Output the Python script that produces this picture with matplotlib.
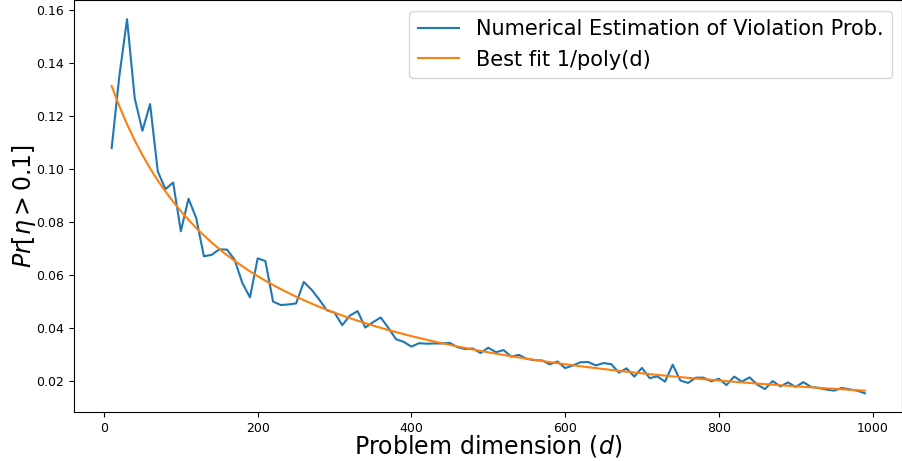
import matplotlib
matplotlib.use('Agg')
import matplotlib.pyplot as plt
import numpy as np

# problem dimensions d = 10, 20, ..., 990
dims = list(range(10, 1000, 10))

# estimated Pr[eta > 0.1] at each dimension
viol_prob = [
    0.1080, 0.1352, 0.1566, 0.1268, 0.1145, 0.1246, 0.0992, 0.0925, 0.0950, 0.0766,
    0.0889, 0.0816, 0.0672, 0.0677, 0.0698, 0.0697, 0.0659, 0.0571, 0.0517, 0.0664,
    0.0654, 0.0501, 0.0488, 0.0490, 0.0494, 0.0575, 0.0546, 0.0509, 0.0468, 0.0459,
    0.0412, 0.0448, 0.0465, 0.0403, 0.0423, 0.0441, 0.0402, 0.0359, 0.0349, 0.0331,
    0.0344, 0.0342, 0.0343, 0.0343, 0.0345, 0.0329, 0.0322, 0.0324, 0.0307, 0.0327,
    0.0310, 0.0318, 0.0293, 0.0300, 0.0285, 0.0280, 0.0279, 0.0264, 0.0275, 0.0250,
    0.0260, 0.0272, 0.0273, 0.0260, 0.0269, 0.0265, 0.0233, 0.0249, 0.0218, 0.0251,
    0.0212, 0.0219, 0.0199, 0.0263, 0.0203, 0.0194, 0.0214, 0.0214, 0.0200, 0.0210,
    0.0186, 0.0218, 0.0199, 0.0215, 0.0188, 0.0171, 0.0201, 0.0181, 0.0196, 0.0179,
    0.0197, 0.0179, 0.0175, 0.0169, 0.0165, 0.0175, 0.0170, 0.0165, 0.0155,
]

# fitted 1/poly(d): 1 / (c0 + c1*(d/100) + c2*(d/100)^2)
fit_coef = [7.144, 4.655, 0.0752]

d = np.array(dims, dtype=float)
x = d / 100.0
fit = 1.0 / (fit_coef[0] + fit_coef[1] * x + fit_coef[2] * x ** 2)

fig = plt.figure(figsize=(9.03, 4.61), dpi=100)
ax = fig.add_axes([74 / 903, 49 / 461, 828.5 / 903, 411.5 / 461])

ax.plot(d, viol_prob, color='tab:blue', lw=1.5, label='Numerical Estimation of Violation Prob.')
ax.plot(d, fit, color='tab:orange', lw=1.5, label='Best fit 1/poly(d)')

ax.set_xlabel('Problem dimension ($d$)', fontsize=17, labelpad=-1)
ax.set_ylabel(r'$Pr[\eta > 0.1]$', fontsize=17, labelpad=-1)
ax.tick_params(labelsize=9)
ax.legend(fontsize=15, loc='upper right')

plt.savefig('out.png', dpi=100)
plt.close()
